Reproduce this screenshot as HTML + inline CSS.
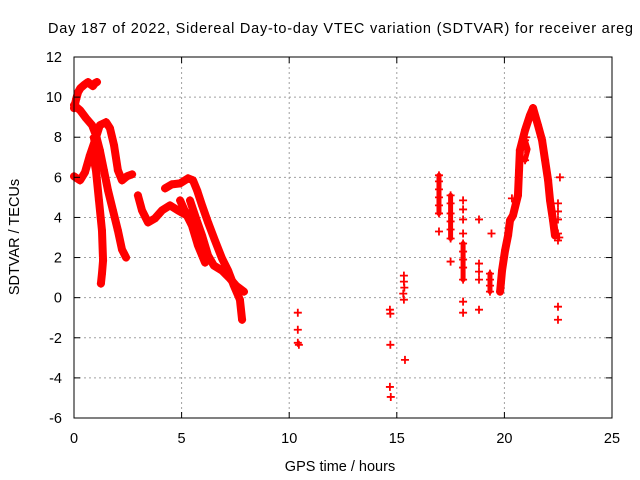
<!DOCTYPE html>
<html><head><meta charset="utf-8"><style>
html,body{margin:0;padding:0;background:#fff;}
svg{display:block;font-family:"Liberation Sans",sans-serif;}
</style></head><body>
<svg id="chart" width="640" height="480" viewBox="0 0 640 480" xmlns="http://www.w3.org/2000/svg">
<rect x="0" y="0" width="640" height="480" fill="#fff"/>
<text x="48" y="33" text-anchor="start" font-size="14.5" textLength="585" lengthAdjust="spacing" fill="#000">Day 187 of 2022, Sidereal Day-to-day VTEC variation (SDTVAR) for receiver areg</text>
<g id="grid"></g>
<g id="marks"></g>
<g id="axes"></g>
<text x="340" y="471" text-anchor="middle" font-size="14.5">GPS time / hours</text>
<text transform="translate(19,237) rotate(-90)" text-anchor="middle" font-size="14.5">SDTVAR / TECUs</text>
</svg>
<script>
const xTicks=[0,5,10,15,20,25];
const yTicks=[12,10,8,6,4,2,0,-2,-4,-6];
// tracks: [time, value] pairs
const trackA=[[0,9.45],[0.1,9.9],[0.19,10.25],[0.3,10.45],[0.46,10.6],[0.65,10.75],[0.75,10.65],[0.88,10.55],[0.98,10.7],[1.07,10.75]];
const trackB=[[0,9.6],[0.28,9.35],[0.56,8.95],[0.84,8.6],[1.02,8.1],[1.2,7.35],[1.39,6.35],[1.58,5.35],[1.81,4.35],[2.04,3.35],[2.23,2.4],[2.42,2.0]];
const trackC=[[0,6.05],[0.28,5.85],[0.51,6.25],[0.74,7.1],[0.98,7.85],[1.2,8.6],[1.49,8.75],[1.67,8.45],[1.86,7.6],[2.04,6.35],[2.23,5.85],[2.46,6.05],[2.7,6.15]];
const trackD=[[0.84,7.35],[1.02,6.35],[1.16,4.85],[1.3,3.35],[1.35,1.85],[1.3,1.2],[1.25,0.7]];
const trackE=[[2.97,5.1],[3.16,4.35],[3.44,3.75],[3.76,3.95],[4.09,4.35],[4.46,4.6],[4.83,4.35],[5.16,4.15],[5.48,4.25]];
const trackF=[[4.23,5.45],[4.55,5.65],[4.93,5.7],[5.3,5.95],[5.53,5.85],[5.72,5.35],[5.95,4.6],[6.23,3.75],[6.55,2.85],[6.88,1.95],[7.16,1.35],[7.43,0.6],[7.71,-0.1],[7.81,-1.1]];
const trackG=[[5.39,4.85],[5.67,3.95],[5.95,3.1],[6.23,2.1],[6.5,1.6],[6.88,1.35],[7.25,0.95],[7.53,0.6],[7.9,0.3]];
const trackH=[[4.93,4.85],[5.2,4.2],[5.48,3.6],[5.76,2.6],[6.09,1.75]];
const trackI=[[19.8,0.3],[19.89,1.35],[20.03,2.35],[20.17,3.1],[20.26,3.85],[20.4,4.1],[20.63,5.1],[20.68,6.35],[20.72,7.35],[20.96,8.35],[21.19,9.1],[21.33,9.45]];
const trackJ=[[21.33,9.45],[21.56,8.6],[21.75,7.85],[21.89,6.85],[22.03,5.85],[22.12,4.85],[22.26,3.85],[22.35,3.1]];
const trackK=[[16.96,6.1],[16.96,4.2]];
const trackL=[[17.5,5.1],[17.5,2.95]];
const trackM=[[18.08,2.7],[18.08,0.9]];
const trackN=[[19.33,1.2],[19.33,0.3]];
const trackO=[[20.9,8.1],[21.1,7.4],[20.96,6.85]];
const trackP=[[0.85,8.0],[1.0,7.2],[1.1,6.2]];
const tracks=[trackA,trackB,trackC,trackD,trackE,trackF,trackG,trackH,trackI,trackJ];
const clusters=[trackK,trackL,trackM,trackN,trackO,trackP];
// scattered points
const scatterT=[10.4,10.4,10.4,10.45,14.68,14.7,14.7,14.68,14.72,15.33,15.33,15.35,15.3,15.33,15.38,
16.96,16.96,16.96,16.96,16.96,16.96,16.96,17.5,17.5,17.5,17.5,17.5,17.5,17.5,
18.08,18.08,18.08,18.08,18.08,18.08,18.08,18.08,18.08,18.08,18.08,18.82,18.82,18.82,18.82,18.82,
19.33,19.33,19.33,19.33,19.4,20.96,20.96,20.96,21.0,20.35,22.49,22.49,22.49,22.49,22.49,22.49,22.49,22.58,22.55];
const scatterV=[-0.75,-1.6,-2.25,-2.35,-0.6,-0.8,-2.35,-4.45,-4.95,1.1,0.8,0.5,0.2,-0.1,-3.1,
6.1,5.8,5.4,5.0,4.6,4.2,3.3,5.1,4.7,4.2,3.8,3.4,2.95,1.8,
4.85,4.4,3.9,3.2,2.7,2.3,1.9,1.5,0.9,-0.2,-0.75,3.9,1.7,1.3,0.9,-0.6,
1.2,0.9,0.6,0.3,3.2,7.85,7.4,6.85,8.0,4.95,4.7,4.3,3.9,3.2,2.85,-0.45,-1.1,6.0,3.0];
const X0=74,X1=612,Y0=57,Y1=418,xmin=0,xmax=25,ymin=-6,ymax=12;
const sx=t=>X0+(t-xmin)/(xmax-xmin)*(X1-X0);
const sy=v=>Y1-(v-ymin)/(ymax-ymin)*(Y1-Y0);
const NS="http://www.w3.org/2000/svg";
function mk(tag,attrs,parent){const e=document.createElementNS(NS,tag);for(const k in attrs)e.setAttribute(k,attrs[k]);parent.appendChild(e);return e;}
const grid=document.getElementById('grid'),axes=document.getElementById('axes'),marks=document.getElementById('marks');
xTicks.forEach(t=>{
 if(t>xmin&&t<xmax){const g=mk('line',{x1:sx(t),x2:sx(t),y1:Y0,y2:Y1,stroke:'#a0a0a0','stroke-dasharray':'2,3','stroke-width':1},grid);
 
 }
 const a=mk('line',{x1:sx(t),x2:sx(t),y1:Y1,y2:Y1-6,stroke:'#000'},axes);
 
 
 const b=mk('line',{x1:sx(t),x2:sx(t),y1:Y0,y2:Y0+6,stroke:'#000'},axes);
 
 
 const l=mk('text',{x:sx(t),y:443,'text-anchor':'middle','font-size':14.5},axes);l.textContent=t;
 
 
});
yTicks.forEach(v=>{
 if(v>ymin&&v<ymax){const g=mk('line',{x1:X0,x2:X1,y1:sy(v),y2:sy(v),stroke:'#a0a0a0','stroke-dasharray':'2,3','stroke-width':1},grid);
 
 }
 const a=mk('line',{x1:X0,x2:X0+6,y1:sy(v),y2:sy(v),stroke:'#000'},axes);
 
 
 const b=mk('line',{x1:X1,x2:X1-6,y1:sy(v),y2:sy(v),stroke:'#000'},axes);
 
 
 const l=mk('text',{x:62,y:sy(v)+5,'text-anchor':'end','font-size':14.5},axes);l.textContent=v;
 
 
});
const fr=mk('rect',{x:X0,y:Y0,width:X1-X0,height:Y1-Y0,fill:'none',stroke:'#000','stroke-width':1},axes);


function plus(t,v){
 const p=mk('path',{d:`M${sx(t)-4},${sy(v)}h8M${sx(t)},${sy(v)-4}v8`,stroke:'#f00','stroke-width':1.8,fill:'none'},marks);
 
 
}
tracks.forEach(tr=>{
 const pl=mk('polyline',{points:tr.map(p=>sx(p[0])+','+sy(p[1])).join(' '),fill:'none',stroke:'#f00','stroke-width':8,'stroke-linejoin':'round','stroke-linecap':'round'},marks);
 
 
 tr.forEach(p=>plus(p[0],p[1]));
});
clusters.forEach(tr=>{
 const pl=mk('polyline',{points:tr.map(p=>sx(p[0])+','+sy(p[1])).join(' '),fill:'none',stroke:'#f00','stroke-width':5,'stroke-linejoin':'round','stroke-linecap':'round'},marks);
 
 
});
scatterT.forEach((t,i)=>plus(t,scatterV[i]));
</script>
</body></html>
